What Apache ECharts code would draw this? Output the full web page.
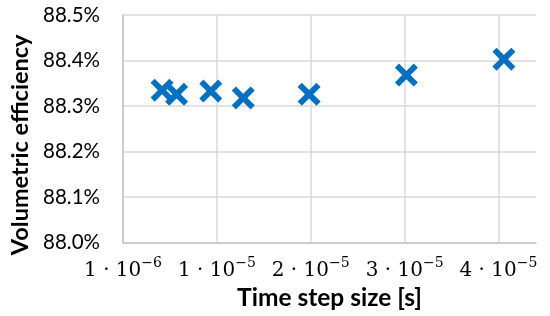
<!DOCTYPE html>
<html>
<head>
<meta charset="utf-8">
<script src="https://cdn.jsdelivr.net/npm/echarts@6/dist/echarts.min.js"></script>
<style>
  html, body { margin: 0; padding: 0; background: #fff; }
  #chart { width: 550px; height: 316px; }
</style>
</head>
<body>
<div id="chart"></div>
<script>
  // time step sizes [s] and volumetric efficiency [%]
  var stepSizes = [4.16e-6, 5.71e-6, 9.35e-6, 1.281e-5, 1.983e-5, 3.019e-5, 4.058e-5];
  var efficiency = [88.335, 88.326, 88.333, 88.318, 88.326, 88.368, 88.403];

  // x tick labels as [mantissa, exponent]
  var xTickLabels = [['1', '−6'], ['1', '−5'], ['2', '−5'], ['3', '−5'], ['4', '−5']];

  // X marker shape
  var crossPath = 'path://M0,1.8 L1.8,0 L5,3.2 L8.2,0 L10,1.8 L6.8,5 L10,8.2 L8.2,10 L5,6.8 L1.8,10 L0,8.2 L3.2,5 Z';

  var points = stepSizes.map(function (x, i) { return [x, efficiency[i]] })

  var myChart = echarts.init(document.getElementById('chart'));
  var option = {
    animation: false,
    grid: {
      left: 120.5,
      right: 14,
      top: 15,
      bottom: 73.3
    },
    xAxis: {
      type: 'value',
      min: 0,
      max: 4.4e-5,
      interval: 1e-5,
      name: 'Time step size [s]',
      nameLocation: 'middle',
      nameGap: 40,
      nameTextStyle: {
        fontFamily: 'Lato',
        fontWeight: 'bold',
        fontSize: 24.5,
        color: '#000'
      },
      axisLine: { show: true, lineStyle: { color: '#c4c4c4', width: 1.5 } },
      axisTick: { show: false },
      splitLine: { show: true, showMaxLine: false, lineStyle: { color: '#d9d9d9', width: 1.5 } },
      axisLabel: {
        showMaxLabel: false,
        margin: 14,
        formatter: function (value) {
          var lab = xTickLabels[Math.round(value / 1e-5)]
          if (!lab) return ''
          return '{b|' + lab[0] + ' · 10}{s|' + lab[1] + '}'
        },
        rich: {
          b: { fontFamily: 'DejaVu Serif', fontSize: 20, color: '#000', lineHeight: 24, verticalAlign: 'bottom' },
          s: { fontFamily: 'DejaVu Serif', fontSize: 14, color: '#000', lineHeight: 24, verticalAlign: 'top', padding: [0, 0, 8, 0] }
        }
      }
    },
    yAxis: {
      type: 'value',
      min: 88.0,
      max: 88.5,
      interval: 0.1,
      name: 'Volumetric efficiency',
      nameLocation: 'middle',
      nameGap: 91,
      nameTextStyle: {
        fontFamily: 'Lato',
        fontWeight: 'bold',
        fontSize: 23.5,
        color: '#000',
        padding: [0, 32, 0, 0]
      },
      axisLine: { show: true, lineStyle: { color: '#c4c4c4', width: 1.5 } },
      axisTick: { show: false },
      splitLine: { show: true, lineStyle: { color: '#d9d9d9', width: 1.5 } },
      axisLabel: {
        margin: 23,
        fontFamily: 'Lato',
        fontSize: 20.5,
        color: '#000',
        formatter: function (v) { return v.toFixed(1) + '%' }
      }
    },
    series: [
      {
        type: 'scatter',
        data: points,
        symbol: crossPath,
        symbolSize: 23,
        itemStyle: { color: '#0070C0', opacity: 1 }
      }
    ]
  };

  myChart.setOption(option);
</script>
</body>
</html>
